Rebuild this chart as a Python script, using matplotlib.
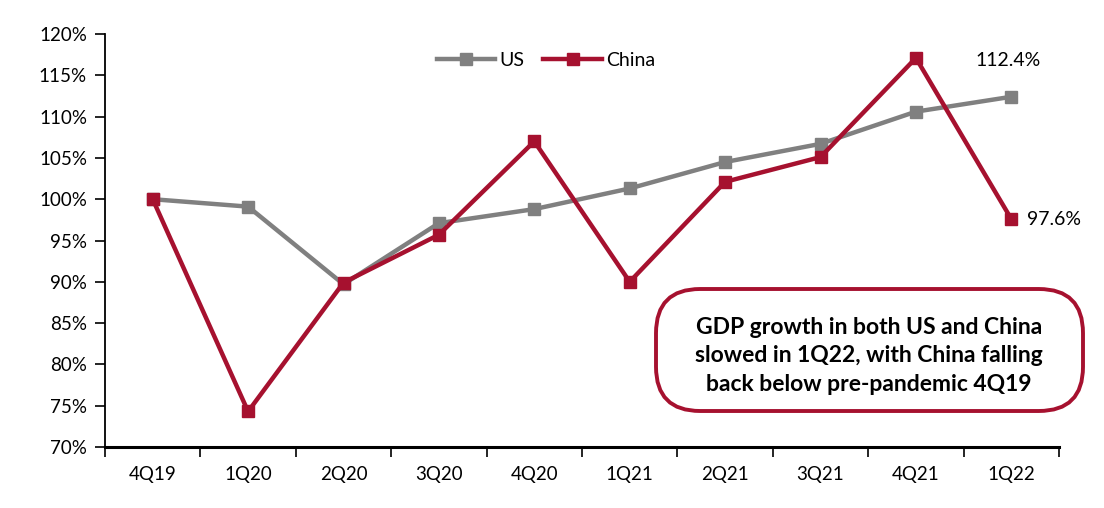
import matplotlib
matplotlib.use("Agg")
import matplotlib.pyplot as plt
from matplotlib.patches import FancyBboxPatch
from matplotlib.ticker import FuncFormatter, MultipleLocator

categories = ["4Q19", "1Q20", "2Q20", "3Q20", "4Q20", "1Q21", "2Q21", "3Q21", "4Q21", "1Q22"]
us = [100.0, 99.1, 89.7, 97.1, 98.8, 101.3, 104.5, 106.7, 110.6, 112.4]
china = [100.0, 74.3, 89.9, 95.7, 107.0, 90.0, 102.1, 105.1, 117.1, 97.6]

plt.rcParams['font.family'] = ['Lato', 'DejaVu Sans']

US_C = "#808080"
CN_C = "#A6112F"

fig = plt.figure(figsize=(11.04, 5.08), dpi=100)
ax = fig.add_axes([105/1104, 1-447/508, (1059-105)/1104, (447-34)/508])

x = list(range(len(categories)))
ax.plot(x, us, color=US_C, lw=3.2, marker="s", ms=9, label="US", zorder=3)
ax.plot(x, china, color=CN_C, lw=3.2, marker="s", ms=9, label="China", zorder=4)

ax.set_xlim(-0.5, len(categories) - 0.5)
ax.set_ylim(70, 120)
ax.yaxis.set_major_locator(MultipleLocator(5))
ax.yaxis.set_major_formatter(FuncFormatter(lambda v, p: f"{v:.0f}%"))
ax.set_xticks(x)
ax.set_xticklabels(categories)
ax.set_xticks([i - 0.5 for i in range(len(categories) + 1)], minor=True)
ax.tick_params(axis='x', which='major', length=0, pad=14, labelsize=13.5)
ax.tick_params(axis='x', which='minor', length=7, width=1.2, direction='out')
ax.tick_params(axis='y', length=7, width=1.2, direction='out', labelsize=13.5, pad=6)

for s in ["top", "right"]:
    ax.spines[s].set_visible(False)
ax.spines["left"].set_linewidth(1.3)
ax.spines["bottom"].set_linewidth(2.2)

ax.legend(loc="upper center", bbox_to_anchor=(0.462, 1.0), ncol=2, frameon=False,
          fontsize=14, handlelength=3.0, handletextpad=0.2, columnspacing=1.0, markerscale=0.9)

ax.annotate(f"{us[-1]:.1f}%", (x[-1], us[-1]), xytext=(-2, 20), textcoords="offset points",
            ha="center", va="bottom", fontsize=14)
ax.annotate(f"{china[-1]:.1f}%", (x[-1], china[-1]), xytext=(11, 0), textcoords="offset points",
            ha="left", va="center", fontsize=14)

box = FancyBboxPatch((656/1104, 1-411/508), (1083-656)/1104, (411-289)/508,
                     boxstyle="round,pad=0,rounding_size=0.04", transform=fig.transFigure,
                     facecolor="white", edgecolor=CN_C, lw=2.8, zorder=5, mutation_aspect=1104/508)
fig.patches.append(box)
fig.text(869/1104, 1-356/508,
         "GDP growth in both US and China\nslowed in 1Q22, with China falling\nback below pre-pandemic 4Q19",
         ha="center", va="center", fontsize=16.5, fontweight="bold", linespacing=1.45, zorder=6)

fig.savefig("out.png", dpi=100)
